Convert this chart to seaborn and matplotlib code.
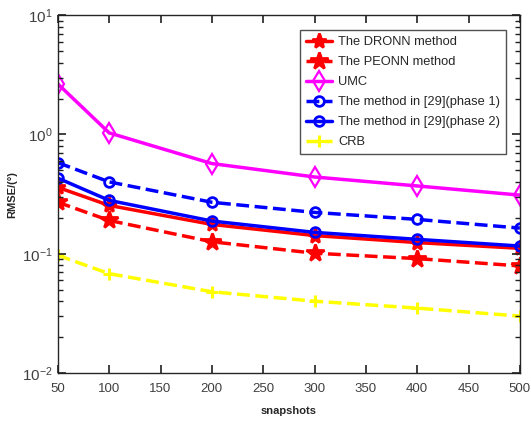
import numpy as np
import pandas as pd
import matplotlib
matplotlib.use("Agg")
import matplotlib.pyplot as plt
import seaborn as sns
from matplotlib.ticker import LogLocator, NullFormatter

snapshots = [50, 100, 200, 300, 400, 500]
dronn = [0.36, 0.254, 0.176, 0.142, 0.124, 0.111]
peonn = [0.27, 0.19, 0.126, 0.101, 0.091, 0.079]
umc = [2.65, 1.03, 0.57, 0.44, 0.37, 0.31]
phase1 = [0.58, 0.40, 0.27, 0.222, 0.194, 0.164]
phase2 = [0.43, 0.28, 0.188, 0.151, 0.132, 0.116]
crb = [0.097, 0.068, 0.048, 0.040, 0.035, 0.030]

labels = ["The DRONN method", "The PEONN method", "UMC",
          "The method in [29](phase 1)", "The method in [29](phase 2)", "CRB"]
series = [dronn, peonn, umc, phase1, phase2, crb]
colors = ["#ff0000", "#ff0000", "#ff00ff", "#0000ff", "#0000ff", "#ffff00"]
styles = ["-", "--", "-", "--", "-", "--"]
markers = ["*", "*", "d", "o", "o", "+"]
msizes = [11, 13, 10, 7, 7, 9]
mfc = ["#ff0000", "#ff0000", "none", "none", "none", "#ffff00"]
mew = [2, 2, 1.6, 2, 2, 2.2]

sns.set_style("ticks")
plt.rcParams['font.family'] = ['Liberation Sans', 'DejaVu Sans']
plt.rcParams['mathtext.fontset'] = 'custom'
plt.rcParams['mathtext.rm'] = 'Liberation Sans'
plt.rcParams['mathtext.it'] = 'Liberation Sans'
plt.rcParams['mathtext.bf'] = 'Liberation Sans:bold'
plt.rcParams['mathtext.default'] = 'regular'

fig = plt.figure(figsize=(5.31, 4.21), dpi=100)
ax = fig.add_axes([0.109, 0.114, 0.870, 0.850])

for lab, vals, c, ls, m, ms, fc, ew in zip(labels, series, colors, styles, markers, msizes, mfc, mew):
    df = pd.DataFrame({"snapshots": snapshots, "rmse": vals})
    sns.lineplot(data=df, x="snapshots", y="rmse", ax=ax, color=c, linestyle=ls,
                 linewidth=2.5, marker=m, markersize=ms, markerfacecolor=fc,
                 markeredgecolor=c, markeredgewidth=ew, label=lab)

ax.set_yscale("log")
ax.set_ylim(1e-2, 1e1)
ax.set_xlim(50, 500)
ax.set_xticks(range(50, 501, 50))
ax.yaxis.set_minor_locator(LogLocator(base=10, subs=np.arange(2, 10)))
ax.yaxis.set_minor_formatter(NullFormatter())
ax.set_axisbelow(False)
ax.tick_params(which="both", direction="in", top=True, right=True, bottom=True, left=True,
               color="#202020", labelcolor="#404040")
ax.tick_params(which="major", length=6, width=1.2)
ax.tick_params(which="minor", length=3.5, width=1.0)
ax.tick_params(axis="x", which="major", pad=7, labelsize=9.5)
ax.tick_params(axis="y", which="major", pad=4, labelsize=11)
for s in ax.spines.values():
    s.set_color("#262626")
    s.set_linewidth(1)
ax.set_xlabel("snapshots", fontsize=8, fontweight="bold", labelpad=8)
ax.set_ylabel("RMSE/(°)", fontsize=8, fontweight="bold", labelpad=3)

leg = ax.legend(loc="upper right", bbox_to_anchor=(0.970, 0.958), borderaxespad=0,
                fontsize=9.3, frameon=True, fancybox=False, edgecolor="#262626",
                handlelength=2.0, labelspacing=0.62, borderpad=0.45, handletextpad=0.5)
leg.get_frame().set_linewidth(1)

fig.savefig("out.png", dpi=100)
